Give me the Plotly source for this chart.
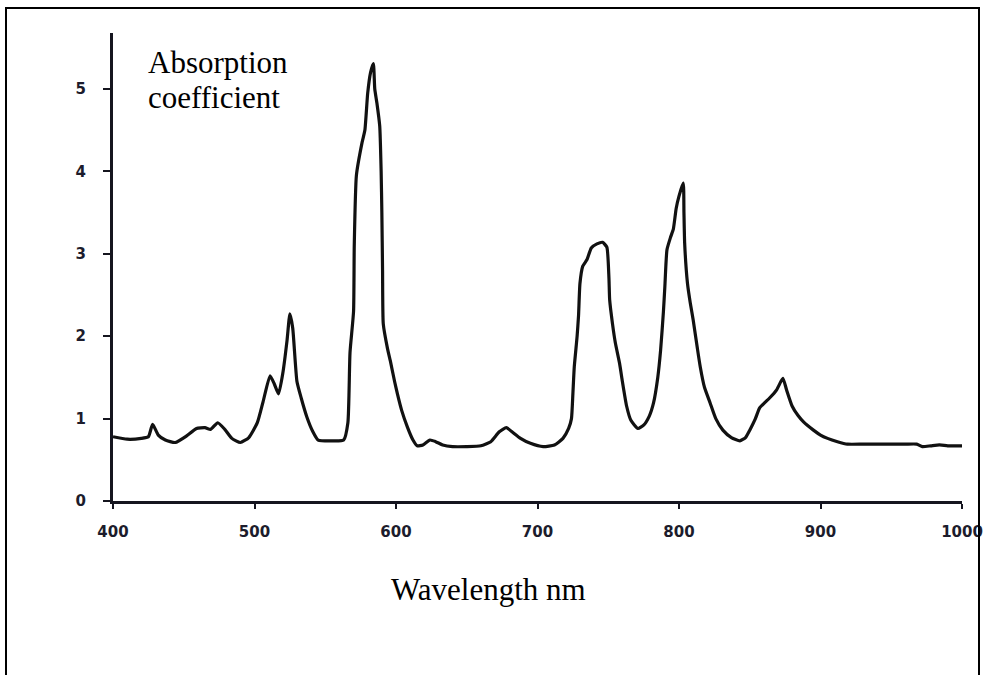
import plotly.graph_objects as go

# Absorption spectrum
wavelength_nm = [400, 410, 420, 425, 428, 432, 437, 444, 452, 459, 465, 469, 474, 479, 484, 490,
                 496, 502, 506, 511, 514, 517, 520, 523, 525, 527, 530, 533, 537, 541, 545, 555,
                 563, 566, 567.5, 570, 570.5, 572, 576, 578, 580, 582, 584, 585, 586.5, 588.5,
                 589.5, 590, 590.5, 591, 594, 596, 599, 601, 604, 608, 612, 615, 619, 624, 628,
                 633, 640, 650, 660, 667, 673, 678, 682, 688, 695, 704, 712, 718, 722, 724, 725,
                 726, 728, 729, 730, 732, 735, 738, 742, 746, 749, 750.5, 751, 753, 755, 758, 760,
                 763, 766, 771, 775, 779, 782, 785, 787, 789, 790, 791.5, 794, 796, 798, 800, 803,
                 803.5, 804, 806, 808, 810, 813, 815, 818, 822, 826, 831, 837, 843, 847, 850, 854,
                 857, 861, 864, 869, 872, 873.5, 876, 880, 884, 888, 895, 900, 905, 912, 919, 930,
                 940, 950, 960, 968, 972, 978, 984, 990, 1000]
absorption = [0.78, 0.75, 0.76, 0.78, 0.93, 0.80, 0.74, 0.71, 0.79, 0.88, 0.89, 0.87, 0.95, 0.87, 0.76, 0.71,
              0.77, 0.95, 1.20, 1.52, 1.42, 1.30, 1.55, 1.95, 2.27, 2.10, 1.45, 1.25, 1.02, 0.85, 0.74, 0.73,
              0.74, 0.95, 1.80, 2.30, 3.10, 3.95, 4.35, 4.50, 4.95, 5.20, 5.31, 5.00, 4.83, 4.55,
              4.00, 3.50, 2.80, 2.15, 1.85, 1.70, 1.45, 1.30, 1.10, 0.90, 0.74, 0.67, 0.68, 0.74, 0.72,
              0.68, 0.66, 0.66, 0.67, 0.72, 0.84, 0.89, 0.84, 0.76, 0.70, 0.66, 0.68, 0.76, 0.88, 1.00, 1.30,
              1.63, 2.00, 2.25, 2.64, 2.85, 2.93, 3.07, 3.12, 3.14, 3.08, 2.70, 2.44, 2.15, 1.92, 1.67, 1.45,
              1.15, 0.98, 0.88, 0.92, 1.03, 1.19, 1.50, 1.83, 2.30, 2.60, 3.05, 3.20, 3.30, 3.55, 3.70, 3.86,
              3.50, 3.13, 2.64, 2.40, 2.20, 1.85, 1.63, 1.38, 1.19, 1.00, 0.86, 0.77, 0.73, 0.77, 0.86, 1.00,
              1.13, 1.20, 1.25, 1.35, 1.45, 1.49, 1.35, 1.15, 1.04, 0.96, 0.86, 0.80, 0.76, 0.72, 0.69, 0.69,
              0.69, 0.69, 0.69, 0.69, 0.66, 0.67, 0.68, 0.67, 0.67]

x_ticks = [400, 500, 600, 700, 800, 900, 1000]
y_ticks = [0, 1, 2, 3, 4, 5]

W, H = 984, 675
L, R, T, B = 113, 22, 33, 174
pw, ph = W - L - R, H - T - B


def px(xp):
    return (xp - L) / pw


def py(yp):
    return (H - B - yp) / ph


fig = go.Figure()
fig.add_trace(go.Scatter(x=wavelength_nm, y=absorption, mode="lines",
                         line=dict(color="#111111", width=3.2, shape="spline", smoothing=0.5),
                         showlegend=False, hoverinfo="x+y"))

tickfont = dict(family="DejaVu Sans", size=15, color="#1c1c2c", weight="bold")
fig.update_layout(
    template="none",
    width=W, height=H,
    margin=dict(l=L, r=R, t=T, b=B, pad=0, autoexpand=False),
    paper_bgcolor="white", plot_bgcolor="white",
    xaxis=dict(range=[400, 1000], tickvals=x_ticks, ticktext=[str(v) for v in x_ticks],
               automargin=False, ticklabeloverflow="allow",
               showgrid=False, zeroline=False, showline=True, linecolor="#15151f", linewidth=3,
               ticks="outside", ticklen=5, tickwidth=2, tickcolor="#15151f",
               tickfont=tickfont, ticklabelstandoff=10),
    yaxis=dict(range=[0, 5.68], tickvals=y_ticks, ticktext=[str(v) for v in y_ticks],
               automargin=False,
               showgrid=False, zeroline=False, showline=True, linecolor="#15151f", linewidth=3,
               ticks="outside", ticklen=7, tickwidth=2, tickcolor="#15151f",
               tickfont=tickfont, ticklabelstandoff=14),
)

serif = dict(family="Liberation Serif, Times New Roman, serif", size=31, color="#000000")
fig.add_annotation(text="Absorption", xref="paper", yref="paper", x=px(146), y=py(62),
                   xanchor="left", yanchor="middle", showarrow=False, font=serif)
fig.add_annotation(text="coefficient", xref="paper", yref="paper", x=px(146), y=py(98),
                   xanchor="left", yanchor="middle", showarrow=False, font=serif)
fig.add_annotation(text="Wavelength nm", xref="paper", yref="paper", x=px(488), y=py(589),
                   xanchor="center", yanchor="middle", showarrow=False, font=serif)

# outer frame of the figure
fig.add_shape(type="rect", xref="paper", yref="paper",
              x0=px(6), x1=px(979), y0=py(690), y1=py(8),
              line=dict(color="#000000", width=2), fillcolor="rgba(0,0,0,0)")

fig.write_html("out.html")
